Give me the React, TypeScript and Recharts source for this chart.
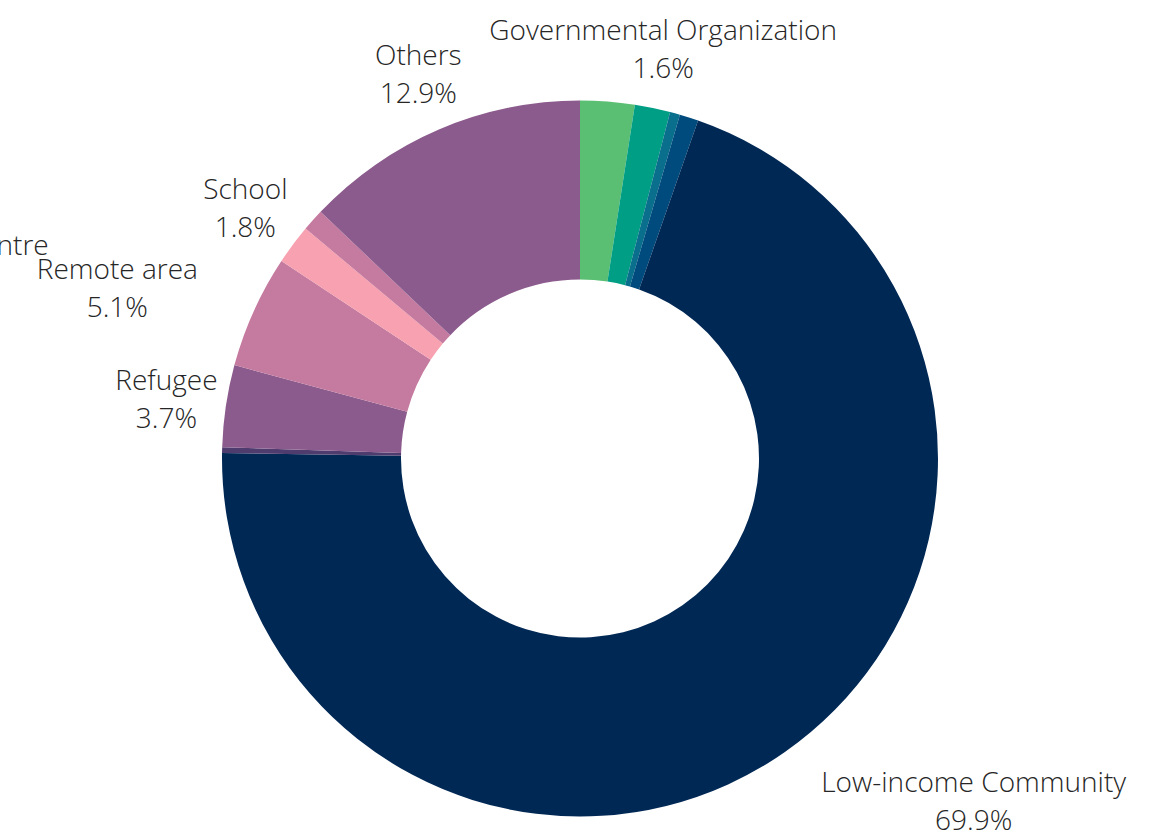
import React from 'react';
import { PieChart, Pie, Cell } from 'recharts';

// clockwise from 12 o'clock
const categories = [
  'NGO',
  'Governmental Organization',
  'Hospital',
  'Community Group',
  'Low-income Community',
  'Elderly',
  'Refugee',
  'Remote area',
  'School',
  'Community Centre',
  'Others',
];
const shares = [2.45, 1.6, 0.45, 0.85, 69.9, 0.25, 3.7, 5.1, 1.8, 1.0, 12.9];
const labelled = [
  'Governmental Organization',
  'Low-income Community',
  'Refugee',
  'Remote area',
  'School',
  'Community Centre',
  'Others',
];

const COLORS = [
  '#5BBF73',
  '#009E85',
  '#0A6F8C',
  '#004B7D',
  '#002855',
  '#4E3C6F',
  '#8C5B8D',
  '#C57A9F',
  '#F7A1B1',
  '#C57A9F',
  '#8C5B8D',
];

// labels pushed aside to avoid collisions
const LABEL_NUDGE: Record<string, [number, number]> = {
  'Low-income Community': [159, 14],
  'Remote area': [-89, 6],
  'Community Centre': [-344, 87],
  Refugee: [-8, 9],
  School: [-6, 3],
};

const data = categories.map((name, i) => ({ name, value: shares[i] }));

const RADIAN = Math.PI / 180;

const renderLabel = (props: any) => {
  const { cx, cy, midAngle, outerRadius, name, value } = props;
  if (!labelled.includes(name)) return null;
  const r = outerRadius + 52;
  const nudge = LABEL_NUDGE[name] || [0, 0];
  const x = cx + r * Math.cos(-midAngle * RADIAN) + nudge[0];
  const y = cy + r * Math.sin(-midAngle * RADIAN) + nudge[1];
  return (
    <text
      x={x}
      y={y}
      textAnchor="middle"
      fill="#262626"
      style={{ fontFamily: '"Open Sans", sans-serif', fontWeight: 300, fontSize: 28 }}
    >
      <tspan x={x} y={y - 17}>{name}</tspan>
      <tspan x={x} y={y + 21}>{value.toFixed(1)}%</tspan>
    </text>
  );
};

const App: React.FC = () => {
  return (
    <div style={{ position: 'absolute', left: 0, top: 0, width: 1165, height: 837, background: '#fff' }}>
      <PieChart width={1165} height={837} margin={{ top: 0, right: 0, bottom: 0, left: 0 }}>
        <Pie
          data={data}
          dataKey="value"
          nameKey="name"
          cx={580}
          cy={458.5}
          innerRadius={179}
          outerRadius={358}
          startAngle={90}
          endAngle={-270}
          paddingAngle={0}
          stroke="none"
          label={renderLabel}
          labelLine={false}
          isAnimationActive={false}
        >
          {data.map((d, i) => (
            <Cell key={d.name} fill={COLORS[i]} />
          ))}
        </Pie>
      </PieChart>
    </div>
  );
};

export default App;
